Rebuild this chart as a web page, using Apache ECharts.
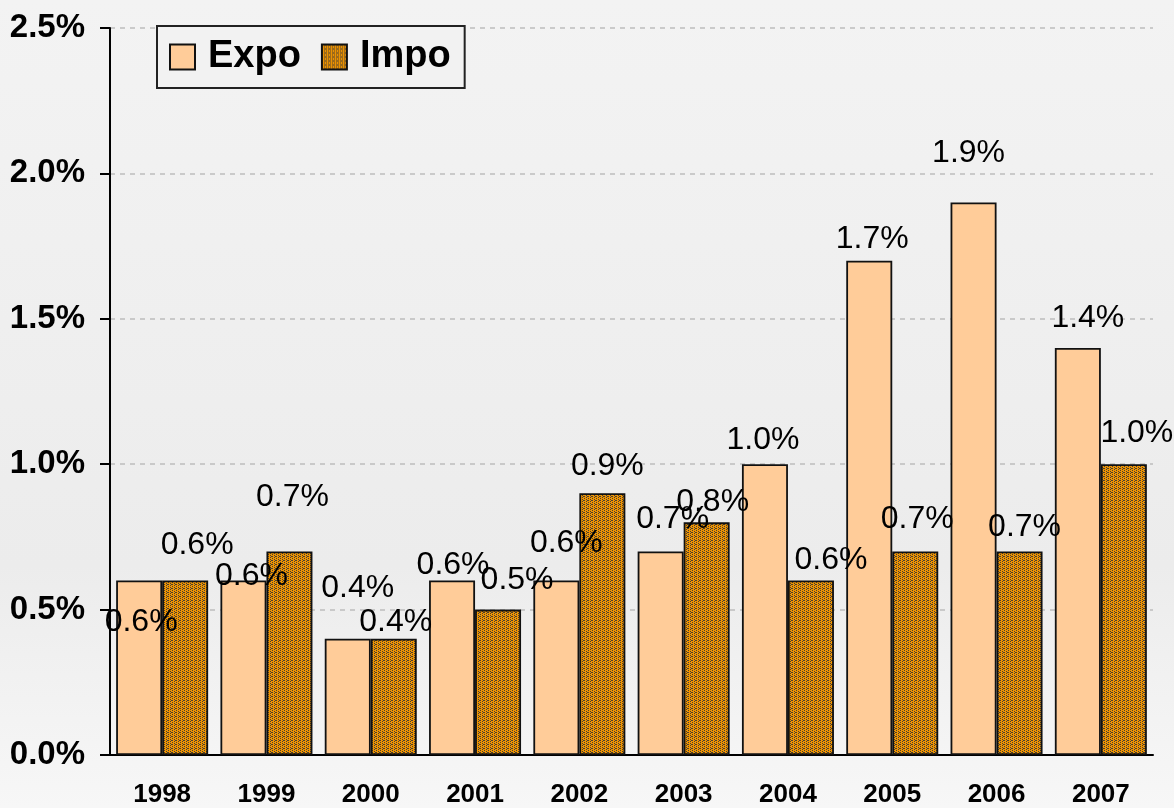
<!DOCTYPE html>
<html>
<head>
<meta charset="utf-8">
<script src="https://cdn.jsdelivr.net/npm/echarts@6/dist/echarts.min.js"></script>
<style>
html,body{margin:0;padding:0;background:#f2f2f2;overflow:hidden;}
#c{width:1174px;height:808px;}
</style>
</head>
<body>
<div id="c"></div>
<script>
var years = ['1998','1999','2000','2001','2002','2003','2004','2005','2006','2007'];
var expo = [0.6,0.6,0.4,0.6,0.6,0.7,1.0,1.7,1.9,1.4];
var impo = [0.6,0.7,0.4,0.5,0.9,0.8,0.6,0.7,0.7,1.0];
var yTicks = [0,0.5,1.0,1.5,2.0,2.5];
// label nudges [dx, pixels above bar top]
var expoLabelShift = [[2,-42],[8,4],[10,51],[1,15],[10,37],[12,32],[-2,24],[3,21],[-5,49],[10,30]];
var impoLabelShift = [[12,35],[3,54],[2,17],[19,29],[5,27],[6,20],[20,20],[2,32],[5,24],[13,31]];

var FONT = 'Liberation Sans, Arial, sans-serif';
var LBL = 32;

function makePattern(){
  var cv = document.createElement('canvas');
  cv.width = 4; cv.height = 4;
  var ctx = cv.getContext('2d');
  ctx.fillStyle = '#f09400'; ctx.fillRect(0,0,4,4);
  ctx.fillStyle = '#463f35';
  [[0,0],[2,1],[0,2],[2,3],[3,0]].forEach(function(p){ ctx.fillRect(p[0],p[1],1,1); });
  return cv;
}
var pat = {image: makePattern(), repeat: 'repeat'};

function buildData(vals, shifts){
  return vals.map(function(v,i){
    return {value: v, label: {offset: [shifts[i][0], LBL/2 - shifts[i][1]]}};
  });
}

var chart = echarts.init(document.getElementById('c'));
chart.setOption({
  backgroundColor: {
    type:'linear', x:0, y:0, x2:0, y2:1,
    colorStops:[{offset:0,color:'#f3f3f3'},{offset:0.7,color:'#ececec'},{offset:1,color:'#f7f7f7'}]
  },
  animation: false,
  grid: {left:110, right:21, top:28, bottom:44, containLabel:false},
  legend: {
    left:157, top:26,
    padding:[12,14,12,12],
    backgroundColor:'#f2f2f2',
    borderColor:'#222', borderWidth:2,
    icon:'rect',
    itemWidth:25, itemHeight:25, itemGap:20,
    textStyle:{fontFamily:FONT, fontWeight:'bold', fontSize:38, color:'#000', lineHeight:38, padding:[0,0,0,8]},
    data:['Expo','Impo']
  },
  xAxis: {
    type:'category', data: years,
    axisLine:{show:true, lineStyle:{color:'#000', width:2}},
    axisTick:{show:false},
    axisLabel:{fontFamily:FONT, fontWeight:'bold', fontSize:26, color:'#000', margin:27},
    splitLine:{show:false}
  },
  yAxis: {
    type:'value', min:0, max:2.5, interval:0.5,
    axisLine:{show:true, lineStyle:{color:'#000', width:2}},
    axisTick:{show:true, inside:false, length:10, lineStyle:{color:'#000', width:2}},
    axisLabel:{fontFamily:FONT, fontWeight:'bold', fontSize:33, color:'#000', margin:25,
      formatter:function(v){ return v.toFixed(1)+'%'; }},
    splitLine:{show:true, lineStyle:{color:'#bdbdbd', type:[5,5], width:1.5}}
  },
  series: [
    {
      name:'Expo', type:'bar', data: buildData(expo, expoLabelShift),
      barWidth:46, barGap:'0%',
      itemStyle:{color:'#ffcc99', borderColor:'#111', borderWidth:1.8},
      label:{show:true, position:'top', distance:0, fontFamily:FONT, fontSize:LBL, color:'#000',
        formatter:function(p){ return p.value.toFixed(1)+'%'; }}
    },
    {
      name:'Impo', type:'bar', data: buildData(impo, impoLabelShift),
      barWidth:46, barGap:'0%',
      itemStyle:{color: pat, borderColor:'#111', borderWidth:1.8},
      label:{show:true, position:'top', distance:0, fontFamily:FONT, fontSize:LBL, color:'#000',
        formatter:function(p){ return p.value.toFixed(1)+'%'; }}
    }
  ]
});
</script>
</body>
</html>
